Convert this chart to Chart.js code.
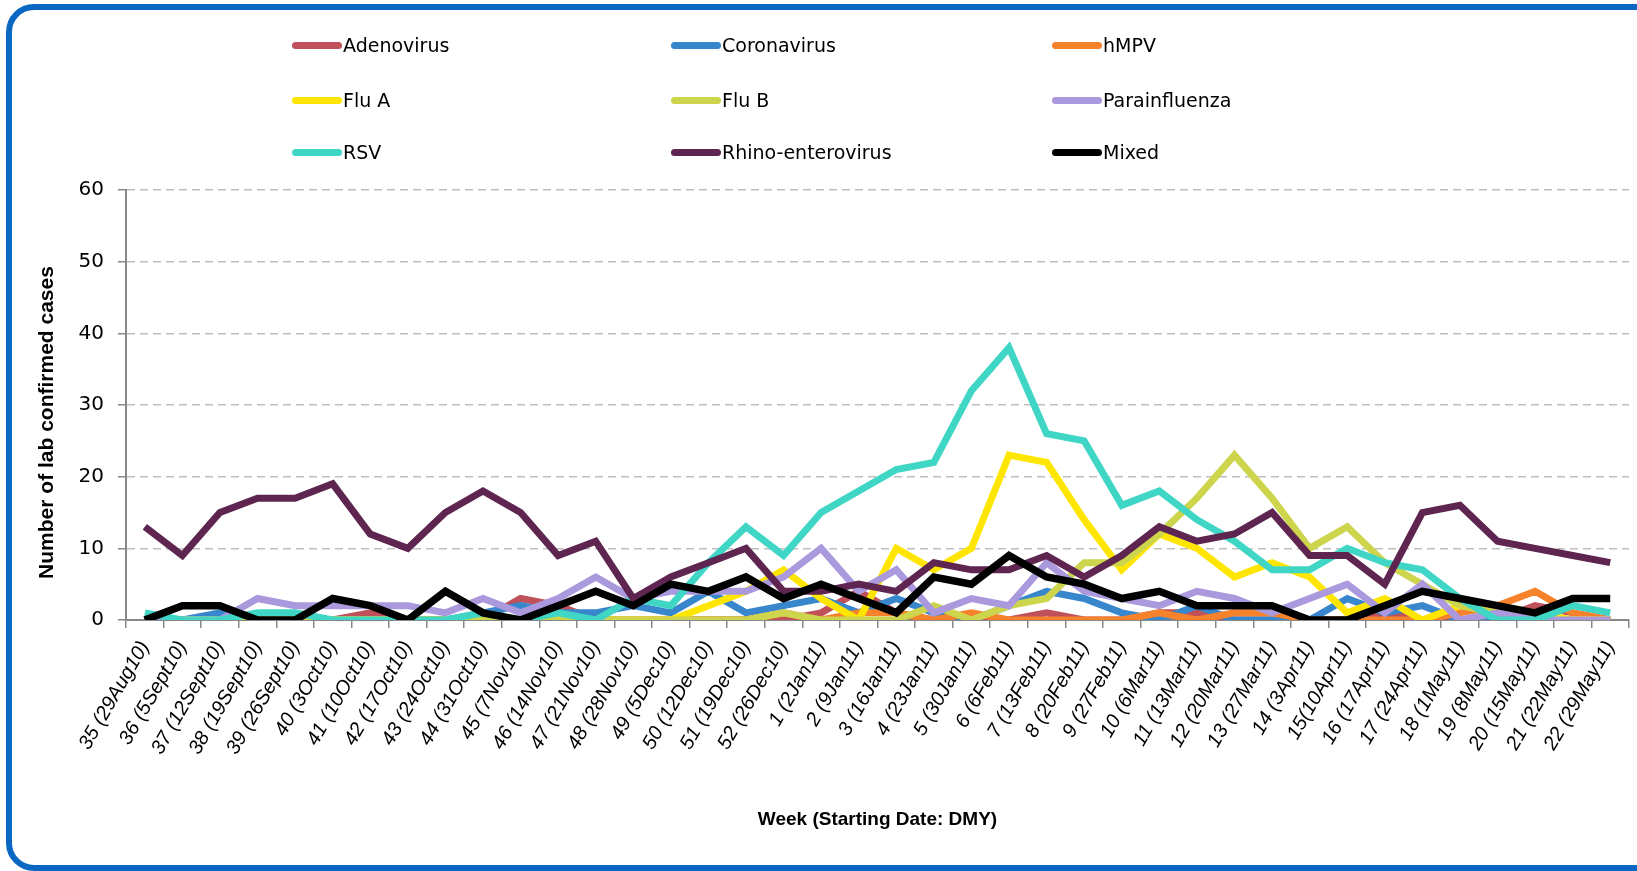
<!DOCTYPE html>
<html>
<head>
<meta charset="utf-8">
<script src="https://cdn.jsdelivr.net/npm/chart.js@4.4.1/dist/chart.umd.min.js"></script>
<style>
  html, body { margin: 0; padding: 0; background: #fff; overflow: hidden; }
  #wrap { position: relative; width: 1637px; height: 871px; }
  #frame {
    position: absolute; left: 6px; top: 4px; width: 1720px; height: 867px;
    box-sizing: border-box; border: 6px solid #0a68c2; border-radius: 28px;
  }
  #chartBox { position: absolute; left: 0; top: 0; width: 1637px; height: 871px; }
  .legend-item {
    position: absolute; display: flex; align-items: center; height: 24px;
    font-family: 'DejaVu Sans', sans-serif; font-size: 19px; color: #000; white-space: nowrap;
  }
  .legend-item .sw { width: 50px; height: 7px; border-radius: 4px; margin-right: 1px; }
</style>
</head>
<body>
<div id="wrap">
  <div id="frame"></div>
  <div id="chartBox"><canvas id="virusChart"></canvas></div>
  <div id="legend"></div>
</div>
<script>
// weeks (starting date, DMY)
const weeks = ['35 (29Aug10)', '36 (5Sept10)', '37 (12Sept10)', '38 (19Sept10)', '39 (26Sept10)',
  '40 (3Oct10)', '41 (10Oct10)', '42 (17Oct10)', '43 (24Oct10)', '44 (31Oct10)',
  '45 (7Nov10)', '46 (14Nov10)', '47 (21Nov10)', '48 (28Nov10)', '49 (5Dec10)',
  '50 (12Dec10)', '51 (19Dec10)', '52 (26Dec10)', '1 (2Jan11)', '2 (9Jan11)',
  '3 (16Jan11)', '4 (23Jan11)', '5 (30Jan11)', '6 (6Feb11)', '7 (13Feb11)',
  '8 (20Feb11)', '9 (27Feb11)', '10 (6Mar11)', '11 (13Mar11)', '12 (20Mar11)',
  '13 (27Mar11)', '14 (3Apr11)', '15(10Apr11)', '16 (17Apr11)', '17 (24Apr11)',
  '18 (1May11)', '19 (8May11)', '20 (15May11)', '21 (22May11)', '22 (29May11)'];

const adenovirus = [0,0,0,0,0,0,1,0,0,0, 3,2,0,0,0,0,0,0,1,4, 1,0,0,0,1,0,0,1,1,0, 0,0,0,1,0,0,0,2,1,0];
const coronavirus = [0,0,1,0,0,0,0,0,0,1, 2,1,1,2,1,4,1,2,3,1, 3,1,0,2,4,3,1,0,2,0, 0,0,3,1,2,0,0,0,0,0];
const hmpv = [0,0,0,0,0,0,0,0,0,0, 0,0,0,0,0,0,0,1,0,1, 1,0,1,0,0,0,0,1,0,1, 1,0,0,0,0,1,2,4,1,0];
const fluA = [0,0,0,0,0,0,0,0,0,0, 0,0,0,0,0,2,4,7,3,0, 10,7,10,23,22,14,7,12,10,6, 8,6,1,3,0,2,2,1,0,0];
const fluB = [0,0,0,0,0,0,0,0,0,0, 0,0,0,0,0,0,0,1,0,0, 0,2,0,2,3,8,8,12,17,23, 17,10,13,8,5,2,1,0,0,0];
const parainfluenza = [0,0,0,3,2,2,2,2,1,3, 1,3,6,3,4,4,4,6,10,4, 7,1,3,2,8,4,3,2,4,3, 1,3,5,1,5,0,1,0,0,0];
const rsv = [1,0,0,1,1,0,0,0,0,1, 0,1,0,3,2,8,13,9,15,18, 21,22,32,38,26,25,16,18,14,11, 7,7,10,8,7,3,0,0,2,1];
const rhino = [13,9,15,17,17,19,12,10,15,18, 15,9,11,3,6,8,10,4,4,5, 4,8,7,7,9,6,9,13,11,12, 15,9,9,5,15,16,11,10,9,8];
const mixed = [0,2,2,0,0,3,2,0,4,1, 0,2,4,2,5,4,6,3,5,3, 1,6,5,9,6,5,3,4,2,2, 2,0,0,2,4,3,2,1,3,3];

const seriesNames = ['Adenovirus', 'Coronavirus', 'hMPV', 'Flu A', 'Flu B', 'Parainfluenza', 'RSV', 'Rhino-enterovirus', 'Mixed'];
const seriesData = [adenovirus, coronavirus, hmpv, fluA, fluB, parainfluenza, rsv, rhino, mixed];
const seriesColors = ['#c0505a', '#3886cb', '#f6822b', '#ffe600', '#cdd54c', '#ab99dd', '#3fd6c6', '#5e2550', '#000000'];

const yTicks = [0, 10, 20, 30, 40, 50, 60];

document.addEventListener('DOMContentLoaded', function() {
    const datasets = seriesNames.map((name, i) => ({
        label: name,
        data: seriesData[i],
        borderColor: seriesColors[i],
        backgroundColor: seriesColors[i],
        borderWidth: i === 8 ? 7.5 : 7,
        pointRadius: 0,
        fill: false,
        tension: 0,
        order: seriesNames.length - 1 - i   // later series on top, like the original
    }));

    const ctx = document.getElementById('virusChart').getContext('2d');
    new Chart(ctx, {
        type: 'line',
        data: { labels: weeks, datasets: datasets },
        options: {
            responsive: true,
            maintainAspectRatio: false,
            animation: false,
            layout: { padding: { top: 190, left: 32, right: 8, bottom: 36 } },
            plugins: {
                legend: { display: false },
                tooltip: { enabled: false }
            },
            scales: {
                x: {
                    offset: true,
                    grid: {
                        offset: true,
                        drawOnChartArea: false,
                        tickLength: 8,
                        color: '#888',
                        lineWidth: 1.5
                    },
                    border: { color: '#888', width: 2 },
                    ticks: {
                        autoSkip: false,
                        minRotation: 60,
                        maxRotation: 60,
                        padding: 9,
                        color: '#000',
                        font: { family: 'Liberation Sans', size: 20, style: 'italic' }
                    },
                    title: {
                        display: true,
                        text: 'Week (Starting Date: DMY)',
                        color: '#000',
                        font: { family: 'Liberation Sans', size: 19, weight: 'bold' },
                        padding: { top: 0, bottom: 4 }
                    },
                    afterFit: function(scale) {
                        scale.height = 215;
                        // rotated labels should not push the plot area in
                        scale.paddingLeft = 0;
                        scale.paddingRight = 0;
                    }
                },
                y: {
                    min: yTicks[0],
                    max: yTicks[yTicks.length - 1],
                    afterBuildTicks: function(scale) {
                        scale.ticks = yTicks.map(v => ({ value: v }));
                    },
                    grid: {
                        color: c => (c.tick && c.tick.value === 0) ? 'rgba(0,0,0,0)' : '#bfbfbf',
                        lineWidth: 1.5,
                        tickLength: 8,
                        tickColor: '#888',
                        tickBorderDash: []
                    },
                    border: { color: '#888', width: 2, dash: [8, 5] },
                    ticks: {
                        padding: 14,
                        color: '#000',
                        font: { family: 'DejaVu Sans', size: 20 }
                    },
                    title: {
                        display: true,
                        // trailing spaces push the centred title a little lower, as in the original
                        text: 'Number of lab confirmed cases' + '\u00a0'.repeat(6),
                        color: '#000',
                        font: { family: 'Liberation Sans', size: 21, weight: 'bold' },
                        padding: { top: 3, bottom: 0 }
                    },
                    afterFit: function(scale) { scale.width = 94; }
                }
            }
        }
    });

    // legend: 3 x 3 grid like the original
    const legendCols = [292, 671, 1052];
    const legendRows = [45, 100, 152];
    const legend = document.getElementById('legend');
    seriesNames.forEach((name, i) => {
        const item = document.createElement('div');
        item.className = 'legend-item';
        item.style.left = legendCols[i % 3] + 'px';
        item.style.top = (legendRows[Math.floor(i / 3)] - 12) + 'px';
        const sw = document.createElement('span');
        sw.className = 'sw';
        sw.style.background = seriesColors[i];
        const txt = document.createElement('span');
        txt.textContent = name;
        item.appendChild(sw);
        item.appendChild(txt);
        legend.appendChild(item);
    });
});
</script>
</body>
</html>
